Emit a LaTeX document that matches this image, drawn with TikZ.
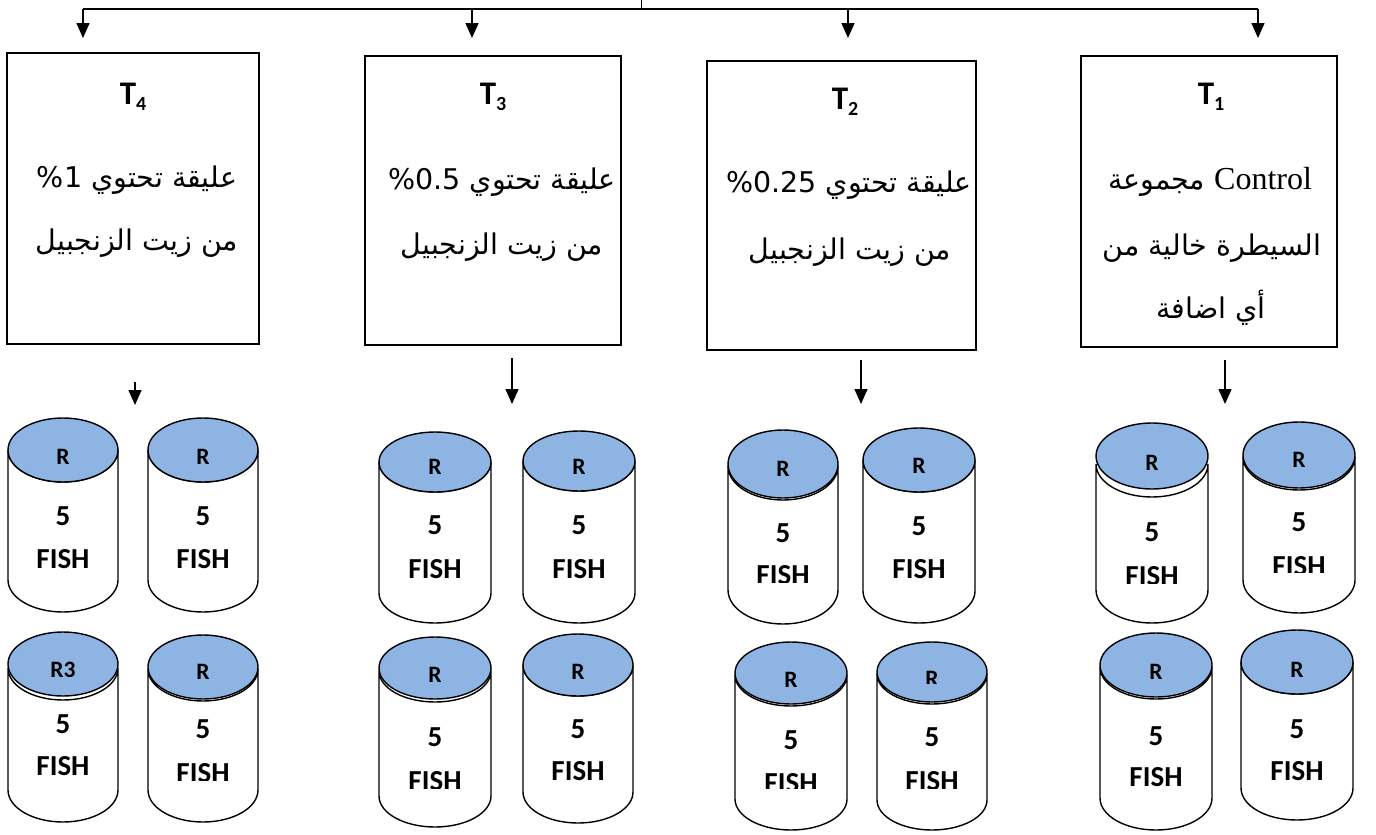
\documentclass[tikz,border=0pt]{standalone}
\usepackage{fontspec}
\setmainfont{Carlito}
\newfontfamily\arabicfont[Script=Arabic]{DejaVu Sans}
\newfontfamily\latinserif{Liberation Serif}
\TeXXeTstate=1
\usetikzlibrary{arrows.meta}
\definecolor{capblue}{RGB}{141,180,226}
\tikzset{
  canline/.style={line width=1.4pt, draw=black},
  boxnode/.style={draw=black, line width=1.6pt, fill=white, inner sep=0pt},
  arr/.style={line width=1.5pt, -{Triangle[length=15pt,width=13pt]}},
  plainline/.style={line width=1.5pt},
  tlab/.style={font=\fontsize{33}{36}\selectfont\bfseries, inner sep=0pt},
  arlab/.style={font=\fontsize{28.5}{32}\selectfont\arabicfont, inner sep=0pt},
  rlab/.style={font=\fontsize{23.5}{25}\selectfont\bfseries, inner sep=0pt},
  numlab/.style={font=\fontsize{29}{30}\selectfont\bfseries, inner sep=0pt},
  fishlab/.style={font=\fontsize{29}{30}\selectfont\bfseries, inner sep=0pt}
}
% #1 cx  #2 cap centre y  #3 bottom centre y  #4 rx  #5 ry  #6 rim offset
\newcommand{\fishcan}[6]{%
  \draw[canline,fill=white] (#1-#4,#2+#6) -- (#1-#4,#3)
     arc[start angle=180,end angle=0,x radius=#4,y radius=#5]
     -- (#1+#4,#2+#6)
     arc[start angle=0,end angle=180,x radius=#4,y radius=#5] -- cycle;
  \draw[canline,fill=capblue] (#1,#2) ellipse[x radius=#4,y radius=#5];
}
% #1 name #2 cx #3 label #4 label y #5 label clip y #6 five y #7 fish y #8 fish clip y
\newcommand{\fishtext}[8]{%
  \begin{scope}
    \clip (#2-60,#4-25) rectangle (#2+60,#5);
    \node[rlab] (#1r) at (#2,#4) {#3};
  \end{scope}
  \node[numlab] (#1n) at (#2,#6) {5};
  \begin{scope}
    \clip (#2-60,#7-25) rectangle (#2+60,#8);
    \node[fishlab] (#1f) at (#2,#7) {FISH};
  \end{scope}
}
\begin{document}
\begin{tikzpicture}[x=1pt,y=-1pt]
\useasboundingbox (0,0) rectangle (1376,835);

% top distribution line
\coordinate (hl) at (83,9);
\coordinate (hr) at (1258,9);
\coordinate (tk0) at (641,0);
\coordinate (tk1) at (641,9);
\draw[plainline] (hl) -- (hr);
\draw[line width=1pt] (tk0) -- (tk1);
\coordinate (d4s) at (83,9);   \coordinate (d4e) at (83,38);
\coordinate (d3s) at (472,9);  \coordinate (d3e) at (472,38);
\coordinate (d2s) at (848,9);  \coordinate (d2e) at (848,38);
\coordinate (d1s) at (1258,9); \coordinate (d1e) at (1258,38);
\draw[arr] (d4s) -- (d4e);
\draw[arr] (d3s) -- (d3e);
\draw[arr] (d2s) -- (d2e);
\draw[arr] (d1s) -- (d1e);

% treatment boxes
\node[boxnode, minimum width=252pt, minimum height=291pt] (box4) at (133,198.5) {};
\node[boxnode, minimum width=256pt, minimum height=289pt] (box3) at (493,200.5) {};
\node[boxnode, minimum width=269pt, minimum height=289pt] (box2) at (841.5,205.5) {};
\node[boxnode, minimum width=256pt, minimum height=291pt] (box1) at (1209,201.5) {};

% box texts
\node[tlab] (t4) at (133,97) {T\raisebox{-6pt}{\fontsize{20}{20}\selectfont 4}};
\node[tlab] (t3) at (493,97) {T\raisebox{-6pt}{\fontsize{20}{20}\selectfont 3}};
\node[tlab] (t2) at (845,102) {T\raisebox{-6pt}{\fontsize{20}{20}\selectfont 2}};
\node[tlab] (t1) at (1211,97) {T\raisebox{-6pt}{\fontsize{20}{20}\selectfont 1}};

\node[arlab] (t4a) at (137,180) {\beginR عليقة تحتوي \beginL 1\endL\%\endR};
\node[arlab] (t4b) at (137,243) {\beginR من زيت الزنجبيل\endR};
\node[arlab] (t3a) at (502,182) {\beginR عليقة تحتوي \beginL 0.5\endL\%\endR};
\node[arlab] (t3b) at (502,247) {\beginR من زيت الزنجبيل\endR};
\node[arlab] (t2a) at (849,185) {\beginR عليقة تحتوي \beginL 0.25\endL\%\endR};
\node[arlab] (t2b) at (850,252) {\beginR من زيت الزنجبيل\endR};
\node[arlab] (t1a) at (1210,182) {\beginR\beginL{\latinserif\fontsize{32}{34}\selectfont Control}\endL{} مجموعة\endR};
\node[arlab] (t1b) at (1212,248) {\beginR السيطرة خالية من\endR};
\node[arlab] (t1c) at (1211,308) {\beginR أي اضافة\endR};

% arrows below boxes
\coordinate (e4s) at (135,382);  \coordinate (e4e) at (135,405);
\coordinate (e3s) at (512,358);  \coordinate (e3e) at (512,404);
\coordinate (e2s) at (861,360);  \coordinate (e2e) at (861,404);
\coordinate (e1s) at (1225,360); \coordinate (e1e) at (1225,404);
\draw[arr] (e4s) -- (e4e);
\draw[arr] (e3s) -- (e3e);
\draw[arr] (e2s) -- (e2e);
\draw[arr] (e1s) -- (e1e);

% T4 tanks
\fishcan{63}{450}{580}{55}{32}{0}
\fishtext{c41}{63}{R}{457}{500}{516}{559}{600}
\fishcan{203}{450}{580}{55}{32}{0}
\fishtext{c42}{203}{R}{457}{500}{516}{559}{600}
\fishcan{63}{664}{790}{55}{32}{4}
\fishtext{c43}{63}{R3}{670}{676}{724}{766}{800}
\fishcan{203}{667}{790}{55}{32}{2}
\fishtext{c44}{203}{R}{672}{678}{729}{773}{780}

% T3 tanks
\fishcan{435}{462}{593}{56}{30}{0}
\fishtext{c31}{435}{R}{467}{500}{525}{569}{610}
\fishcan{579}{461}{593}{56}{30}{0}
\fishtext{c32}{579}{R}{467}{500}{525}{569}{610}
\fishcan{435}{668}{796}{56}{31}{3}
\fishtext{c33}{435}{R}{675}{710}{737}{781}{788}
\fishcan{578}{665}{792}{55}{31}{0}
\fishtext{c34}{578}{R}{672}{710}{729}{771}{780}

% T2 tanks
\fishcan{783}{464}{590}{55}{34}{2}
\fishtext{c21}{783}{R}{469}{500}{533}{575}{582}
\fishcan{919}{460}{591}{56}{32}{0}
\fishtext{c22}{919}{R}{466}{500}{526}{569}{610}
\fishcan{791}{673}{799}{56}{31}{2}
\fishtext{c23}{791}{R}{680}{686}{740}{783}{788}
\fishcan{932}{672}{800}{55}{30}{2}
\fishtext{c24}{932}{R}{679}{683}{737}{781}{788}

% T1 tanks
\fishcan{1152}{456}{590}{56}{33}{8}
\fishtext{c11}{1152}{R}{463}{500}{532}{576}{583}
\fishcan{1299}{455}{580}{56}{33}{2}
\fishtext{c12}{1299}{R}{460}{500}{522}{566}{572}
\fishcan{1156}{665}{798}{56}{32}{2}
\fishtext{c13}{1156}{R}{672}{710}{736}{777}{810}
\fishcan{1297}{662}{788}{56}{32}{0}
\fishtext{c14}{1297}{R}{670}{710}{729}{771}{780}
\end{tikzpicture}
\end{document}
